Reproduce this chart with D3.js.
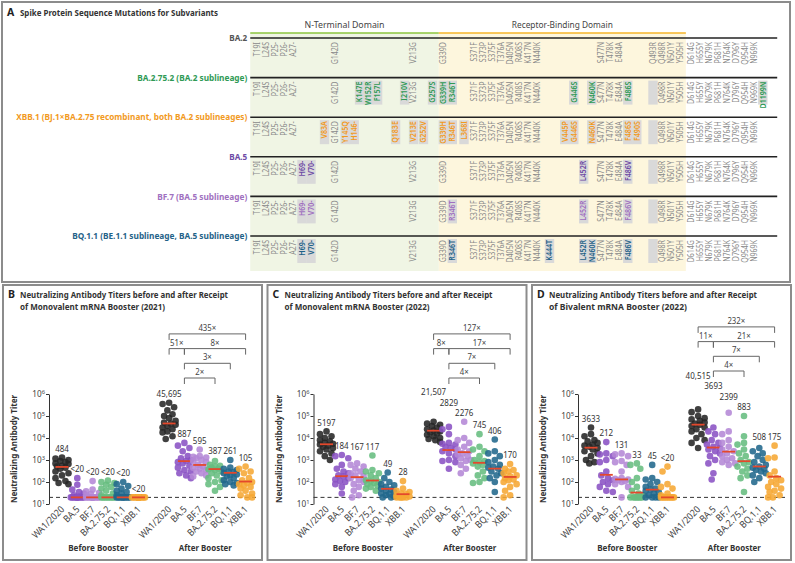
<!DOCTYPE html>
<html><head><meta charset="utf-8">
<script src="https://cdn.jsdelivr.net/npm/d3@7"></script>
<style>
body{margin:0;background:#fff}
svg{display:block}
text{font-family:'Noto Sans','Open Sans',sans-serif}
</style>
</head><body>
<svg id="c" width="795" height="563"></svg>
<script>
// ---------------- DATA ----------------
// Panel A: subvariants and their spike mutations ("*" = new mutation, "~" = reversion, shown as empty gray box)
const variantRows = ["BA.2","BA.2.75.2","XBB.1","BA.5","BF.7","BQ.1.1"];
const rowLabels = ["BA.2","BA.2.75.2 (BA.2 sublineage)","XBB.1 (BJ.1×BA.2.75 recombinant, both BA.2 sublineages)","BA.5","BF.7 (BA.5 sublineage)","BQ.1.1 (BE.1.1 sublineage, BA.5 sublineage)"];
const domainNames = ["N-Terminal Domain","Receptor-Binding Domain"];
// estimated column slot of each mutation label
const mutationSlot = {
 "T19I":0,"L24S":1,"P25-":2,"P26-":3,"A27-":4,"H69-":5,"V70-":6,"V83A":7.5,"G142D":8.7,"Y145Q":9.8,"H146-":10.8,
 "K147E":11.4,"W152R":12.4,"F157L":13.4,"Q183E":15.4,"I210V":16.4,"V213G":17.4,"V213E":17.4,"G252V":18.5,"G257S":19.5,
 "G339D":20.7,"G339H":20.7,"R346T":21.7,"L368I":23,"S371F":24.1,"S373P":25.1,"S375F":26.1,"T376A":27.1,"D405N":28.1,
 "R408S":29.1,"K417N":30.1,"N440K":31.1,"K444T":32.5,"V445P":34.2,"G446S":35.2,"L452R":36.3,"N460K":37.2,"S477N":38.2,
 "T478K":39.2,"E484A":40.2,"F486S":41.2,"F486V":41.2,"F490S":42.2,"Q493R":44,"Q498R":45,"N501Y":46,"Y505H":47,
 "D614G":48.2,"H655Y":49.2,"N679K":50.2,"P681H":51.2,"N764K":52.2,"D796Y":53.2,"Q954H":54.2,"N969K":55.2,"D1199N":56.2
};
const tail = ["Q498R","N501Y","Y505H","D614G","H655Y","N679K","P681H","N764K","D796Y","Q954H","N969K"];
const rbdCore = ["S371F","S373P","S375F","T376A","D405N","R408S","K417N","N440K"];
const mutBA2 = ["T19I","L24S","P25-","P26-","A27-","G142D","V213G","G339D",...rbdCore,"S477N","T478K","E484A","Q493R",...tail];
const mutBA2752 = ["T19I","L24S","P25-","P26-","A27-","G142D","*K147E","*W152R","*F157L","*I210V","V213G","*G257S","*G339H","*R346T",...rbdCore,"*G446S","*N460K","S477N","T478K","E484A","*F486S","~Q493R",...tail,"*D1199N"];
const mutXBB1 = ["T19I","L24S","P25-","P26-","A27-","*V83A","G142D","*Y145Q","*H146-","*Q183E","*V213E","*G252V","*G339H","*R346T","*L368I",...rbdCore,"*V445P","*G446S","*N460K","S477N","T478K","E484A","*F486S","*F490S","~Q493R",...tail];
const mutBA5 = ["T19I","L24S","P25-","P26-","A27-","*H69-","*V70-","G142D","V213G","G339D",...rbdCore,"*L452R","S477N","T478K","E484A","*F486V","~Q493R",...tail];
const mutBF7 = ["T19I","L24S","P25-","P26-","A27-","*H69-","*V70-","G142D","V213G","G339D","*R346T",...rbdCore,"*L452R","S477N","T478K","E484A","*F486V","~Q493R",...tail];
const mutBQ11 = ["T19I","L24S","P25-","P26-","A27-","*H69-","*V70-","G142D","V213G","G339D","*R346T",...rbdCore,"*K444T","*L452R","*N460K","S477N","T478K","E484A","*F486V","~Q493R",...tail];
const rowMutations = [mutBA2, mutBA2752, mutXBB1, mutBA5, mutBF7, mutBQ11];

// Panels B-D
const groupNames = ["Before Booster","After Booster"];
const variants = ["WA1/2020","BA.5","BF.7","BA.2.75.2","BQ.1.1","XBB.1"];
const yTicks = [1e1,1e2,1e3,1e4,1e5,1e6];
const panelLetters = ["B","C","D"];
const titleLine1 = "Neutralizing Antibody Titers before and after Receipt";
const titleLine2 = ["of Monovalent mRNA Booster (2021)","of Monovalent mRNA Booster (2022)","of Bivalent mRNA Booster (2022)"];

const mono21Before = [
 [1300,1150,1000,900,800,700,650,550,500,450,400,300,250,200,150,110,90,80],
 [150,75,45,35,30,25,22,20,20,20,20,20,20,20,20,20,20,20],
 [110,45,38,32,28,25,20,20,20,20,20,20,20,20,20,20,20,20],
 [115,100,90,75,60,50,40,30,25,20,20,20,20,20,20,20,20,20],
 [100,80,65,50,40,35,30,25,20,20,20,20,20,20,20,20,20,20],
 [20,20,20,20,20,20,20,20,20,20,20,20,20,20,20,20,20,20]
];
const mono21After = [
 [400000,350000,250000,180000,120000,100000,80000,60000,50000,45000,40000,35000,30000,25000,20000,18000,12000,9000],
 [6000,4500,3500,2500,1500,1200,1000,900,800,700,550,450,350,300,250,200,150],
 [3000,1500,1400,1300,1200,1000,900,800,600,500,450,400,350,300,250,200,180],
 [900,600,550,500,450,400,380,350,300,250,200,150,120,100,80,60,40],
 [1000,450,400,350,300,280,250,220,200,180,150,120,100,90,80,70],
 [500,400,300,250,150,120,100,90,80,70,60,50,40,30,25,20,20]
];
const mono21BeforeGMT = ["484","<20","<20","<20","<20","<20"];
const mono21AfterGMT = ["45,695","887","595","387","261","105"];
const mono21Folds = [["WA1/2020","XBB.1","435×",3],["WA1/2020","BA.5","51×",2],["BA.5","XBB.1","8×",2],["BA.5","BQ.1.1","3×",1],["BA.5","BA.2.75.2","2×",0]];

const mono22Before = [
 [20000,15000,12000,10000,8000,7000,6000,5500,5000,4500,4000,3500,3000,2500,2000,1500,1000],
 [1700,1500,1200,600,400,300,250,200,180,150,130,110,100,80,60,30],
 [700,600,500,400,300,250,200,180,150,120,100,80,60,40,25,20],
 [1600,350,300,250,200,150,120,110,100,90,80,70,60,50,40],
 [270,150,100,80,70,60,50,45,40,35,30,28,25,22,20,20],
 [110,50,40,35,30,28,25,22,20,20,20,20,20]
];
const mono22After = [
 [55000,45000,40000,35000,30000,25000,22000,20000,18000,16000,14000,12000,10000,9000,8000,6500],
 [32000,25000,15000,6000,5500,5000,4000,3500,3000,2500,2000,1500,1000,900,800,400],
 [55000,10000,8000,6000,4000,3000,2500,2000,1800,1500,1200,1000,900,600,400,250],
 [15000,4000,3000,2500,1500,1000,900,800,700,600,500,300,200,150,100,90],
 [8500,2500,2000,1500,1000,800,600,500,450,400,300,250,200,150,100,35],
 [650,400,350,300,250,200,180,150,130,120,100,80,60,40,25,20]
];
const mono22BeforeGMT = ["5197","184","167","117","49","28"];
const mono22AfterGMT = ["21,507","2829","2276","745","406","170"];
const mono22Folds = [["WA1/2020","XBB.1","127×",3],["WA1/2020","BA.5","8×",2],["BA.5","XBB.1","17×",2],["BA.5","BQ.1.1","7×",1],["BA.5","BA.2.75.2","4×",0]];

const biv22Before = [
 [30000,15000,12000,8000,7000,6000,5000,4500,4000,3500,3000,2500,2000,1500,1000,800,700],
 [6500,2000,1800,1500,1000,800,300,200,150,120,100,80,60,40,35],
 [2000,1800,1500,900,800,600,300,150,140,130,120,110,100,80,60,20],
 [700,600,400,150,100,60,40,30,25,20,20,20,20,20,20,20],
 [600,150,130,100,80,60,50,45,40,35,30,25,20,20,20,20],
 [500,300,80,60,50,30,25,20,20,20,20,20,20,20,20,20]
];
const biv22After = [
 [200000,150000,100000,80000,70000,60000,50000,45000,40000,35000,30000,25000,20000,15000,10000,8000,6000,3500],
 [30000,20000,15000,8000,6000,5000,4000,3500,3000,2500,2000,1500,1000,700,250,130],
 [140000,20000,15000,8000,6000,4000,3000,2500,2000,1500,1200,1000,800,700,600],
 [100000,12000,6000,5000,3000,2000,1500,1000,800,700,500,400,300,200,150,35],
 [3500,2500,2000,1500,1000,800,600,500,450,400,350,300,250,200,150,100],
 [4500,1300,1200,300,200,150,120,100,80,60,50,40,35,25,20,20]
];
const biv22BeforeGMT = ["3633","212","131","33","45","<20"];
const biv22AfterGMT = ["40,515","3693","2399","883","508","175"];
const biv22Folds = [["WA1/2020","XBB.1","232×",3],["WA1/2020","BA.5","11×",2],["BA.5","XBB.1","21×",2],["BA.5","BQ.1.1","7×",1],["BA.5","BA.2.75.2","4×",0]];

// ---------------- STYLES ----------------
const rowColors = ["#555555","#2f9a55","#f29a1e","#6e4aa5","#a070c0","#1f6288"];
const variantColors = ["#262626","#8a52c4","#b488d6","#66bd80","#21688c","#f6a733"];
const FRAME = "#8c8c8c";
const K = 0.84; // horizontal condensing of text (condensed typeface look)

function squeeze(sel, k){
  sel.each(function(){
    const L = this.getComputedTextLength();
    this.__w = L*k;
    d3.select(this).attr("textLength", L*k).attr("lengthAdjust","spacingAndGlyphs");
  });
  return sel;
}
function fit(sel, w){ sel.attr("textLength", w).attr("lengthAdjust","spacingAndGlyphs"); return sel; }

const svg = d3.select("#c");

// ---------------- PANEL A ----------------
const gA = svg.append("g");
gA.append("rect").attr("x",2).attr("y",2).attr("width",788).attr("height",280)
  .attr("fill","none").attr("stroke",FRAME).attr("stroke-width",2);
gA.append("text").attr("x",7).attr("y",16).attr("font-size",10.5).attr("font-weight","bold").attr("fill","#222").text("A");
fit(gA.append("text").attr("x",20).attr("y",16).attr("font-size",9.4).attr("font-weight","bold").attr("fill","#333")
  .text("Spike Protein Sequence Mutations for Subvariants"), 198);

const colX = d3.scaleLinear().domain([0,1]).range([257,266]);
const rowY = d3.scalePoint().domain(variantRows).range([38,236]);
const ntdStart = -0.75, rbdStart = 20.2, rbdEnd = 47.65, tableEnd = 57.8;
const shadeTop = 33, shadeBottom = 271;
gA.append("rect").attr("x",colX(ntdStart)).attr("y",shadeTop).attr("width",colX(rbdStart)-colX(ntdStart)).attr("height",shadeBottom-shadeTop).attr("fill","#f0f5e4");
gA.append("rect").attr("x",colX(rbdStart)).attr("y",shadeTop).attr("width",colX(rbdEnd)-colX(rbdStart)).attr("height",shadeBottom-shadeTop).attr("fill","#fdf6dd");
gA.append("line").attr("x1",colX(ntdStart)).attr("x2",colX(rbdStart)).attr("y1",shadeTop).attr("y2",shadeTop).attr("stroke","#8cc63f").attr("stroke-width",1.6);
gA.append("line").attr("x1",colX(rbdStart)).attr("x2",colX(rbdEnd)).attr("y1",shadeTop).attr("y2",shadeTop).attr("stroke","#f6b42a").attr("stroke-width",1.6);
fit(gA.append("text").attr("x",(colX(ntdStart)+colX(rbdStart))/2).attr("y",28).attr("text-anchor","middle").attr("font-size",9.6).attr("fill","#444").text(domainNames[0]), 80);
fit(gA.append("text").attr("x",(colX(rbdStart)+colX(rbdEnd))/2).attr("y",28).attr("text-anchor","middle").attr("font-size",9.6).attr("fill","#444").text(domainNames[1]), 101);

const rowLabelWidths = [18,110,231,18,90,175];
variantRows.forEach((r,i)=>{
  const y0 = rowY(r);
  const g = gA.append("g");
  const items = rowMutations[i].map(m=>{
    const flag = m[0]==="*" ? "new" : (m[0]==="~" ? "rev" : "");
    const name = flag ? m.slice(1) : m;
    return {name, flag, x: colX(mutationSlot[name])};
  });
  g.selectAll("rect.hl").data(items.filter(d=>d.flag)).join("rect")
    .attr("x",d=>d.x-4.7).attr("y",y0+3).attr("width",9.4).attr("height",24).attr("fill","#d9d9d9");
  squeeze(g.selectAll("text.m").data(items.filter(d=>d.flag!=="rev")).join("text")
    .attr("transform",d=>`translate(${d.x},${y0+4}) rotate(-90)`)
    .attr("text-anchor","end").attr("dy","0.34em").attr("font-size",8.2)
    .attr("fill",d=>d.flag==="new"?rowColors[i]:"#8a8a8a")
    .attr("font-weight",d=>d.flag==="new"?"600":"normal")
    .text(d=>d.name), 0.86);
  g.append("line").attr("x1",colX(ntdStart)).attr("x2",colX(tableEnd)).attr("y1",y0).attr("y2",y0).attr("stroke","#222").attr("stroke-width",1.6);
  fit(g.append("text").attr("x",colX(ntdStart)-3).attr("y",y0).attr("dy","0.35em").attr("text-anchor","end")
    .attr("font-size",9.4).attr("font-weight","bold").attr("fill",rowColors[i]).text(rowLabels[i]), rowLabelWidths[i]);
});

// ---------------- PANELS B-D ----------------
const panels = [
 {before:mono21Before, after:mono21After, gb:mono21BeforeGMT, ga:mono21AfterGMT, folds:mono21Folds},
 {before:mono22Before, after:mono22After, gb:mono22BeforeGMT, ga:mono22AfterGMT, folds:mono22Folds},
 {before:biv22Before, after:biv22After, gb:biv22BeforeGMT, ga:biv22AfterGMT, folds:biv22Folds}
];
const line2Widths = [145,145,138];

function swarm(vals, cx, y, r){
  const sorted = vals.slice().sort((a,b)=>b-a);
  const placed = [];
  const cands = [0,-1.7,1.7,-3.4,3.4,-5,5,-6.5,6.5];
  sorted.forEach(v=>{
    const yy = y(v);
    let best = null, bestD = -1;
    for (const c of cands){
      let md = Infinity;
      for (const p of placed){ const d = Math.hypot(p.x-(cx+c), p.y-yy); if (d<md) md=d; }
      if (md >= 2*r*0.95){ best = c; bestD = md; break; }
      if (md > bestD){ bestD = md; best = c; }
    }
    placed.push({x:cx+best, y:yy, v});
  });
  return placed;
}

panels.forEach((P,i)=>{
  const x0 = 3 + 264.5*i;
  const g = svg.append("g");
  g.append("rect").attr("x",x0).attr("y",285).attr("width",259).attr("height",275)
    .attr("fill","none").attr("stroke",FRAME).attr("stroke-width",2);
  g.append("text").attr("x",x0+5).attr("y",298).attr("font-size",10.5).attr("font-weight","bold").attr("fill","#222").text(panelLetters[i]);
  fit(g.append("text").attr("x",x0+17).attr("y",298).attr("font-size",9.2).attr("font-weight","bold").attr("fill","#333").text(titleLine1), 208);
  fit(g.append("text").attr("x",x0+17).attr("y",310).attr("font-size",9.2).attr("font-weight","bold").attr("fill","#333").text(titleLine2[i]), line2Widths[i]);

  const ax = x0+46;
  const y = d3.scaleLog().domain([10,1e6]).range([504,394]);
  const keys = [...variants.map(v=>"B|"+v),"gap",...variants.map(v=>"A|"+v)];
  const x = d3.scaleBand().domain(keys).range([ax+5.35, ax+204.25]).paddingInner(0);
  const cx = k => x(k)+x.bandwidth()/2;

  // y axis
  const yAxis = g.append("g").attr("transform",`translate(${ax},0)`)
    .call(d3.axisLeft(y).tickValues(yTicks).tickFormat("").tickSize(3).tickSizeOuter(0));
  yAxis.selectAll("path,line").attr("stroke","#333");
  yTicks.forEach(t=>{
    const tx = g.append("text").attr("x",ax-4).attr("y",y(t)+3).attr("text-anchor","end").attr("font-size",8.2).attr("fill","#444");
    tx.append("tspan").text("10");
    tx.append("tspan").attr("dy",-3.5).attr("font-size",5.8).text(Math.round(Math.log10(t)));
  });
  fit(g.append("text").attr("transform",`translate(${x0+14},${449}) rotate(-90)`).attr("text-anchor","middle")
    .attr("font-size",9.2).attr("font-weight","bold").attr("fill","#333").text("Neutralizing Antibody Titer"), 108);

  // dashed limit line
  g.append("line").attr("x1",ax).attr("x2",ax+207).attr("y1",y(20)).attr("y2",y(20))
    .attr("stroke","#333").attr("stroke-dasharray","4,3").attr("stroke-width",1);

  const sets = [["B|",P.before,P.gb],["A|",P.after,P.ga]];
  const labelY = {};
  sets.forEach(([pre,data,gm],gi)=>{
    variants.forEach((v,j)=>{
      const k = pre+v, c = cx(k);
      const pts = swarm(data[j], c, y, 3.3);
      g.selectAll(null).data(pts).join("circle").attr("cx",d=>d.x).attr("cy",d=>d.y).attr("r",3.3)
        .attr("fill",variantColors[j]).attr("fill-opacity",0.88);
      const med = gm[j]==="<20" ? 20 : +gm[j].replace(/,/g,"");
      g.append("line").attr("x1",c-6.5).attr("x2",c+6.5).attr("y1",y(med)).attr("y2",y(med))
        .attr("stroke","#e4482c").attr("stroke-width",1.8);
      squeeze(g.append("text").attr("transform",`translate(${c+3},${510}) rotate(-45)`).attr("text-anchor","end")
        .attr("font-size",9.6).attr("fill","#444").text(v), 0.9);
    });
    // GMT labels with staircase placement
    const texts = variants.map((v,j)=> squeeze(g.append("text").attr("x",cx(pre+v)).attr("text-anchor","middle")
        .attr("dy","0.35em").attr("font-size",9.5).attr("fill","#333").text(gm[j]), K));
    const w = texts.map(t=>t.node().__w);
    const base = variants.map((v,j)=> y(d3.max(data[j])) - 9);
    const out = [];
    out[5] = base[5];
    for (let j=4;j>=0;j--){
      const overlap = (w[j]+w[j+1])/2 + 1.5 > x.step();
      out[j] = Math.min(base[j], out[j+1] - (overlap?10.5:0));
    }
    texts.forEach((t,j)=>t.attr("y",out[j]));
    variants.forEach((v,j)=> labelY[pre+v] = out[j]);
    fit(g.append("text").attr("x",(cx(pre+variants[0])+cx(pre+variants[5]))/2-2).attr("y",551)
      .attr("text-anchor","middle").attr("font-size",9.4).attr("font-weight","bold").attr("fill","#333").text(groupNames[gi]), gi===0?60:53);
  });

  // fold-change brackets
  const afterLab = variants.slice(1).map(v=>labelY["A|"+v]);
  const baseY = Math.min(378, d3.min(afterLab) - 15);
  P.folds.forEach(([a,b,lab,lev])=>{
    const yy = baseY - 14.7*lev;
    const xa = cx("A|"+a), xb = cx("A|"+b);
    g.append("path").attr("d",`M${xa},${yy+6}V${yy}H${xb}V${yy+6}`).attr("fill","none").attr("stroke","#666").attr("stroke-width",1);
    squeeze(g.append("text").attr("x",(xa+xb)/2).attr("y",yy-3).attr("text-anchor","middle").attr("font-size",9.3).attr("fill","#444").text(lab), K);
  });
});
</script>
</body></html>
